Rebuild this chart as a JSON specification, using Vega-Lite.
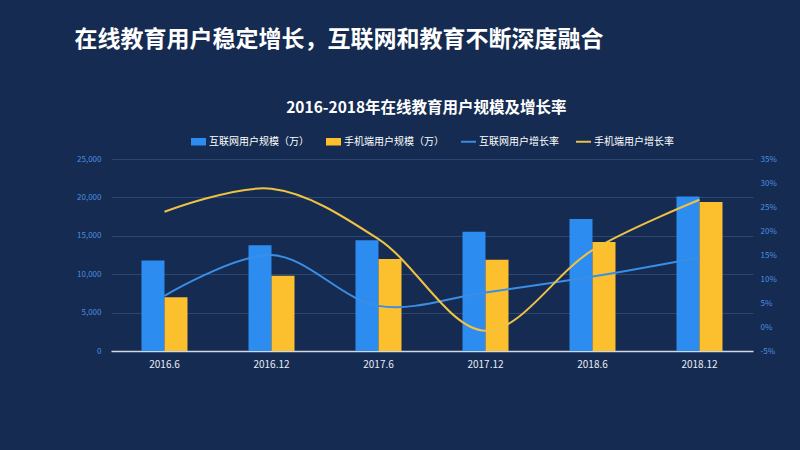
{
  "$schema": "https://vega.github.io/schema/vega-lite/v6.json",
  "background": "#152b51",
  "padding": {"left": 74, "top": 28, "right": 40, "bottom": 90},
  "config": {
    "view": {"stroke": null},
    "font": "Noto Sans CJK SC",
    "concat": {"spacing": 0},
    "legend": {"layout": {"top": {"anchor": "middle", "direction": "horizontal"}}}
  },
  "title": {
    "text": "在线教育用户稳定增长，互联网和教育不断深度融合",
    "anchor": "start",
    "fontSize": 23,
    "fontWeight": "bold",
    "color": "#ffffff",
    "font": "Noto Sans CJK SC",
    "offset": 49,
    "dx": -2
  },
  "resolve": {"scale": {"color": "independent"}, "legend": {"color": "independent"}},
  "datasets": {
    "bars": [
      {"period": "2016.6", "series": "互联网用户规模（万）", "value": 11789},
      {"period": "2016.12", "series": "互联网用户规模（万）", "value": 13764},
      {"period": "2017.6", "series": "互联网用户规模（万）", "value": 14426},
      {"period": "2017.12", "series": "互联网用户规模（万）", "value": 15518},
      {"period": "2018.6", "series": "互联网用户规模（万）", "value": 17186},
      {"period": "2018.12", "series": "互联网用户规模（万）", "value": 20123},
      {"period": "2016.6", "series": "手机端用户规模（万）", "value": 6987},
      {"period": "2016.12", "series": "手机端用户规模（万）", "value": 9798},
      {"period": "2017.6", "series": "手机端用户规模（万）", "value": 11990},
      {"period": "2017.12", "series": "手机端用户规模（万）", "value": 11890},
      {"period": "2018.6", "series": "手机端用户规模（万）", "value": 14194},
      {"period": "2018.12", "series": "手机端用户规模（万）", "value": 19416}
    ],
    "lines": [
      {"period": "2016.6", "series": "互联网用户增长率", "rate": 6.5},
      {"period": "2016.12", "series": "互联网用户增长率", "rate": 15.0},
      {"period": "2017.6", "series": "互联网用户增长率", "rate": 4.4},
      {"period": "2017.12", "series": "互联网用户增长率", "rate": 7.2},
      {"period": "2018.6", "series": "互联网用户增长率", "rate": 10.5},
      {"period": "2018.12", "series": "互联网用户增长率", "rate": 14.5},
      {"period": "2016.6", "series": "手机端用户增长率", "rate": 24.0},
      {"period": "2016.12", "series": "手机端用户增长率", "rate": 28.8},
      {"period": "2017.6", "series": "手机端用户增长率", "rate": 18.3},
      {"period": "2017.12", "series": "手机端用户增长率", "rate": -0.8},
      {"period": "2018.6", "series": "手机端用户增长率", "rate": 16.0},
      {"period": "2018.12", "series": "手机端用户增长率", "rate": 26.5}
    ]
  },
  "vconcat": [
    {
      "title": {
        "text": "2016-2018年在线教育用户规模及增长率",
        "anchor": "middle",
        "fontSize": 15.5,
        "fontWeight": "bold",
        "color": "#ffffff",
        "font": "Noto Sans CJK SC",
        "offset": 18
      },
      "resolve": {"scale": {"color": "independent"}, "legend": {"color": "independent"}},
      "vconcat": [
        {
          "width": 642,
          "height": 192,
          "layer": [
            {
              "data": {"name": "bars"},
              "mark": {"type": "bar"},
              "encoding": {
                "x": {
                  "field": "period",
                  "type": "ordinal",
                  "sort": ["2016.6", "2016.12", "2017.6", "2017.12", "2018.6", "2018.12"],
                  "scale": {"paddingInner": 0.57, "paddingOuter": 0.285},
                  "axis": {
                    "title": null,
                    "labelAngle": 0,
                    "labelColor": "#e8edf5",
                    "labelFontSize": 10,
                    "labelPadding": 8,
                    "ticks": false,
                    "domainColor": "#d0d8e4",
                    "domainWidth": 1.5
                  }
                },
                "xOffset": {
                  "field": "series",
                  "sort": ["互联网用户规模（万）", "手机端用户规模（万）"]
                },
                "y": {
                  "field": "value",
                  "type": "quantitative",
                  "scale": {"domain": [0, 25000], "nice": false},
                  "axis": {
                    "title": null,
                    "values": [0, 5000, 10000, 15000, 20000, 25000],
                    "format": ",d",
                    "labelColor": "#4a90e2",
                    "labelFontSize": 8,
                    "labelPadding": 10,
                    "ticks": false,
                    "domain": false,
                    "gridColor": "#2d4773",
                    "gridWidth": 1
                  }
                },
                "color": {
                  "field": "series",
                  "type": "nominal",
                  "scale": {
                    "domain": ["互联网用户规模（万）", "手机端用户规模（万）", "互联网用户增长率", "手机端用户增长率"],
                    "range": ["#2d8cf0", "#fcc02e", "#3a8ee6", "#f0c244"]
                  },
                  "legend": {
                    "title": null,
                    "orient": "top",
                    "direction": "horizontal",
                    "labelColor": "#ffffff",
                    "labelFontSize": 10,
                    "labelOffset": 3,
                    "columnPadding": 17,
                    "symbolSize": 225,
                    "offset": 12,
                    "encode": {
                      "symbols": {
                        "update": {
                          "shape": {"signal": "datum.index < 2 ? 'M-1,-0.5H1V0.5H-1Z' : 'M-1,-0.13H1V0.13H-1Z'"},
                          "fill": {"signal": "datum.index === 0 ? '#2d8cf0' : datum.index === 1 ? '#fcc02e' : datum.index === 2 ? '#3a8ee6' : '#f0c244'"},
                          "strokeWidth": {"value": 0},
                          "opacity": {"value": 1}
                        }
                      }
                    }
                  }
                }
              }
            },
            {
              "data": {"name": "lines"},
              "mark": {"type": "line", "interpolate": "catmull-rom", "strokeWidth": 2},
              "encoding": {
                "x": {
                  "field": "period",
                  "type": "ordinal",
                  "sort": ["2016.6", "2016.12", "2017.6", "2017.12", "2018.6", "2018.12"]
                },
                "y": {
                  "field": "rate",
                  "type": "quantitative",
                  "scale": {"domain": [-5, 35], "nice": false},
                  "axis": {
                    "orient": "right",
                    "title": null,
                    "values": [-5, 0, 5, 10, 15, 20, 25, 30, 35],
                    "labelExpr": "datum.value + '%'",
                    "labelColor": "#4a90e2",
                    "labelFontSize": 8,
                    "labelPadding": 7,
                    "ticks": false,
                    "domain": false,
                    "grid": false
                  }
                },
                "color": {"field": "series", "type": "nominal"}
              }
            }
          ],
          "resolve": {"scale": {"y": "independent"}}
        }
      ]
    }
  ]
}
